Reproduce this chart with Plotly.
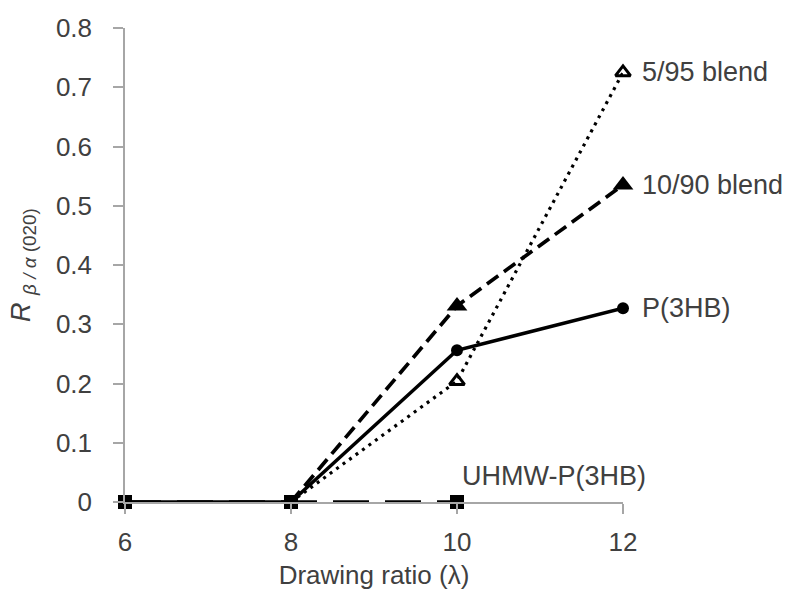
import plotly.graph_objects as go

ratio_uhmw = [6, 8, 10]
r_uhmw = [0, 0, 0]
ratio_p3hb = [6, 8, 10, 12]
r_p3hb = [0, 0, 0.256, 0.327]
ratio_1090 = [8, 10, 12]
r_1090 = [0, 0.331, 0.535]
ratio_595 = [8, 10, 12]
r_595 = [0, 0.204, 0.725]

x_ticks = [6, 8, 10, 12]
y_ticks = [0, 0.1, 0.2, 0.3, 0.4, 0.5, 0.6, 0.7, 0.8]

font = "Liberation Sans, Arial, sans-serif"
txt = "#404040"
axis_col = "#a6a6a6"

fig = go.Figure()
fig.add_trace(go.Scatter(x=ratio_uhmw, y=r_uhmw, mode="lines", cliponaxis=False,
                         line=dict(color="black", width=3.5, dash="36px,16px")))
fig.add_trace(go.Scatter(x=ratio_595, y=r_595, mode="lines", cliponaxis=False,
                         line=dict(color="black", width=3.2, dash="3px,5px")))
fig.add_trace(go.Scatter(x=ratio_1090, y=r_1090, mode="lines", cliponaxis=False,
                         line=dict(color="black", width=3.7, dash="14px,7px")))
fig.add_trace(go.Scatter(x=ratio_p3hb, y=r_p3hb, mode="lines", cliponaxis=False,
                         line=dict(color="black", width=3.5)))
# markers
fig.add_trace(go.Scatter(x=ratio_595[1:], y=r_595[1:], mode="markers", cliponaxis=False,
                         marker=dict(symbol="triangle-up-open", size=13, color="black",
                                     line=dict(width=3, color="black"))))
fig.add_trace(go.Scatter(x=ratio_1090[1:], y=r_1090[1:], mode="markers", cliponaxis=False,
                         marker=dict(symbol="triangle-up", size=18, color="black")))
fig.add_trace(go.Scatter(x=ratio_p3hb[2:], y=r_p3hb[2:], mode="markers", cliponaxis=False,
                         marker=dict(symbol="circle", size=12, color="black")))
fig.add_trace(go.Scatter(x=ratio_uhmw, y=r_uhmw, mode="markers", cliponaxis=False,
                         marker=dict(symbol="square", size=14, color="black")))

labels = [("5/95 blend", 12, r_595[-1]), ("10/90 blend", 12, r_1090[-1]),
          ("P(3HB)", 12, r_p3hb[-1])]
for t, x, y in labels:
    fig.add_annotation(x=x, y=y, text=t, showarrow=False, xanchor="left", xshift=17,
                       font=dict(family=font, size=27, color=txt))
fig.add_annotation(x=10, y=0, text="UHMW-P(3HB)", showarrow=False, xanchor="left",
                   yanchor="middle", xshift=3, yshift=26,
                   font=dict(family=font, size=27, color=txt))

fig.add_annotation(xref="paper", yref="paper", x=-0.205, y=0.5, textangle=-90,
                   xanchor="center", yanchor="middle",
                   text="<i>R</i> <sub><i>β / α</i> (020)</sub>", showarrow=False,
                   font=dict(family=font, size=27, color=txt))

fig.update_layout(
    width=785, height=590,
    margin=dict(l=125, r=162, t=28, b=88),
    paper_bgcolor="white", plot_bgcolor="white",
    showlegend=False,
    font=dict(family=font, size=26, color=txt),
)
fig.update_xaxes(range=[6, 12], tickvals=x_ticks, showgrid=False, zeroline=False,
                 automargin=False,
                 showline=True, linecolor=axis_col, linewidth=1.5,
                 ticks="outside", ticklen=10, tickcolor=axis_col, tickwidth=1.5,
                 ticklabelstandoff=6,
                 title=dict(text="Drawing ratio (λ)", standoff=12,
                            font=dict(family=font, size=26, color=txt)))
fig.update_yaxes(range=[0, 0.8], tickvals=y_ticks, ticktext=[f"{v:g}" for v in y_ticks],
                 showgrid=False, zeroline=False, automargin=False,
                 showline=True, linecolor=axis_col, linewidth=1.5,
                 ticks="outside", ticklen=10, tickcolor=axis_col, tickwidth=1.5,
                 ticklabelstandoff=16)

fig.write_html("out.html")
